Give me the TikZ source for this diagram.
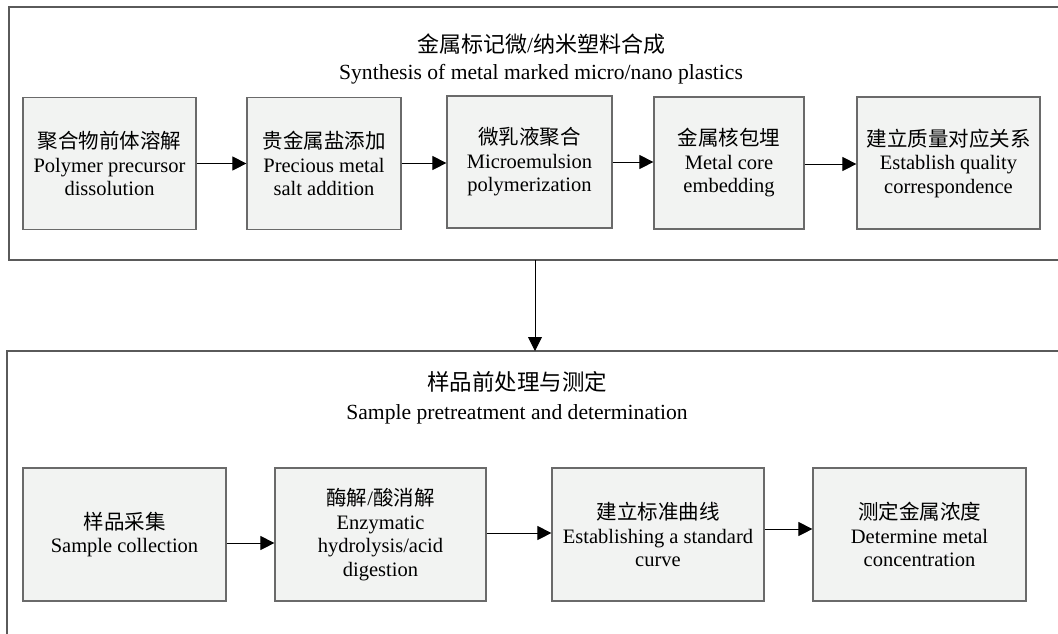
\documentclass[tikz,border=0pt]{standalone}
\usepackage{fontspec}
\setmainfont{Liberation Serif}
\newfontfamily\cjk{Noto Sans CJK SC}
\usetikzlibrary{arrows.meta}
\definecolor{boxfill}{HTML}{F2F3F2}
\definecolor{boxline}{HTML}{6A6A6A}
\definecolor{frameline}{HTML}{5A5A5A}
\begin{document}
\begin{tikzpicture}[x=1pt,y=-1pt,
  stepbox/.style={draw=boxline, fill=boxfill, line width=1.2pt, minimum height=132pt,
    align=center, inner sep=0pt, font=\fontsize{20.5}{23.5}\selectfont},
  frameline/.style={draw=frameline, line width=1.2pt},
  arr/.style={draw=black, line width=0.9pt, -{Triangle[length=14pt,width=14pt]}},
  titletext/.style={align=center, font=\fontsize{21.6}{28}\selectfont}]
\useasboundingbox (0,0) rectangle (1058,633);

% frames
\draw[frameline] (1060,7) -- (9,7) -- (9,260) -- (1060,260);
\draw[frameline] (1060,351) -- (7,351) -- (7,640);
\coordinate (fa) at (535,260);
\coordinate (fb) at (535,351);

% titles
\node[titletext] (t1) at (541,58.5) {{\cjk\fontsize{22}{28}\selectfont 金属标记微}/{\cjk\fontsize{22}{28}\selectfont 纳米塑料合成}\\[-1pt]Synthesis of metal marked micro/nano plastics};
\node[titletext] (t2) at (517,397.5) {{\cjk\fontsize{22.5}{28}\selectfont 样品前处理与测定}\\[1pt]Sample pretreatment and determination};

% top boxes
\node[stepbox, minimum width=173pt] (b1) at (109.5,163.5) {{\cjk 聚合物前体溶解}\\Polymer precursor\\dissolution};
\node[stepbox, minimum width=154pt] (b2) at (324,163.5) {{\cjk 贵金属盐添加}\\Precious metal\\salt addition};
\node[stepbox, minimum width=165pt] (b3) at (529.5,162) {{\cjk 微乳液聚合}\\Microemulsion\\polymerization};
\node[stepbox, minimum width=150pt] (b4) at (729,163) {{\cjk 金属核包埋}\\Metal core\\embedding};
\node[stepbox, minimum width=183pt] (b5) at (948.5,163) {{\cjk 建立质量对应关系}\\Establish quality\\correspondence};

% bottom boxes
\node[stepbox, minimum width=203pt, minimum height=133pt] (c1) at (124.5,534.5) {{\cjk 样品采集}\\Sample collection};
\node[stepbox, minimum width=211pt, minimum height=133pt] (c2) at (380.5,534.5) {{\cjk 酶解}/{\cjk 酸消解}\\Enzymatic\\hydrolysis/acid\\digestion};
\node[stepbox, minimum width=212pt, minimum height=133pt] (c3) at (658,534.5) {{\cjk 建立标准曲线}\\Establishing a standard\\curve};
\node[stepbox, minimum width=213pt, minimum height=133pt] (c4) at (919.5,534.5) {{\cjk 测定金属浓度}\\Determine metal\\concentration};

% connectors
\draw[arr] (b1.east) -- (b2.west);
\draw[arr] ([yshift=0.5pt]b2.east) -- ([yshift=0.5pt]b2.east -| b3.west);
\draw[arr] (b3.east) -- (b3.east -| b4.west);
\draw[arr] ([yshift=-1pt]b4.east) -- ([yshift=-1pt]b5.west);
\draw[arr] (fa) -- (fb);
\draw[arr] ([yshift=-8.5pt]c1.east) -- ([yshift=-8.5pt]c2.west);
\draw[arr] ([yshift=1.5pt]c2.east) -- ([yshift=1.5pt]c3.west);
\draw[arr] ([yshift=5.5pt]c3.east) -- ([yshift=5.5pt]c4.west);
\end{tikzpicture}
\end{document}
